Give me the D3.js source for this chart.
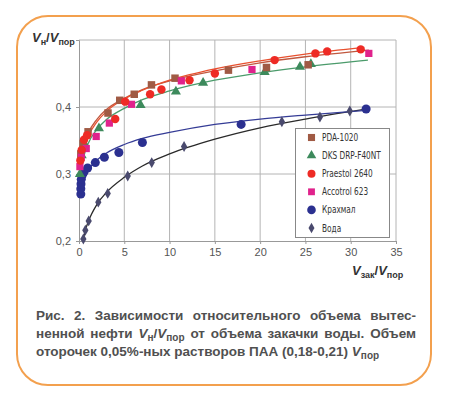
<!DOCTYPE html>
<html>
<head>
<meta charset="utf-8">
<script src="https://cdn.jsdelivr.net/npm/d3@7"></script>
<style>
  body { margin: 0; background: #fff; }
  #wrap { position: relative; width: 468px; height: 398px; }
  svg { position: absolute; left: 0; top: 0; }
  .caption { position: absolute; left: 36px; top: 307px; width: 380px;
    font-family: "Liberation Sans", Arial, sans-serif; font-weight: bold;
    font-size: 13.5px; line-height: 18px; color: #505050; }
  .caption div { text-align: justify; }
  .caption div.j { text-align-last: justify; }
  .caption sub { font-size: 10px; line-height: 0; vertical-align: -3px; }
</style>
</head>
<body>
<div id="wrap"></div>
<script>
// Axis ticks
var xTicks = [0, 5, 10, 15, 20, 25, 30, 35];
var yTicks = [0.2, 0.3, 0.4, 0.5];
var yTickLabels = ['0,2', '0,3', '0,4', ''];

// Legend names
var seriesNames = ['PDA-1020', 'DKS DRP-F40NT', 'Praestol 2640', 'Accotrol 623', 'Крахмал', 'Вода'];

// Measured points [Vзак/Vпор, Vн/Vпор]
var pdaPoints = [[0.2, 0.33], [0.45, 0.345], [1.0, 0.363], [3.2, 0.391], [4.5, 0.41], [6.1, 0.419],
  [8.0, 0.433], [10.6, 0.443], [16.5, 0.455], [20.7, 0.459], [25.3, 0.463]];
var dksPoints = [[0.1, 0.30], [0.3, 0.328], [0.6, 0.345], [2.2, 0.368], [6.8, 0.403], [10.7, 0.423],
  [13.7, 0.436], [20.5, 0.452], [24.4, 0.46], [25.6, 0.464]];
var praestolPoints = [[0.15, 0.32], [0.3, 0.336], [0.55, 0.351], [0.9, 0.358], [4.0, 0.382], [5.1, 0.408],
  [7.85, 0.419], [9.1, 0.426], [12.2, 0.44], [15.0, 0.45], [21.6, 0.47], [26.1, 0.48], [27.4, 0.483], [31.1, 0.486]];
var accotrolPoints = [[0.1, 0.311], [0.25, 0.325], [0.8, 0.338], [1.9, 0.356], [3.35, 0.376], [5.8, 0.404],
  [11.3, 0.439], [19.1, 0.456], [32.0, 0.48]];
var krahmalPoints = [[0.2, 0.27], [0.2, 0.278], [0.22, 0.285], [0.25, 0.292], [0.35, 0.298], [0.55, 0.303],
  [0.95, 0.309], [1.8, 0.317], [2.8, 0.325], [4.4, 0.332], [7.0, 0.347], [17.9, 0.374], [31.7, 0.397]];
var vodaPoints = [[0.48, 0.203], [0.7, 0.216], [1.07, 0.23], [2.13, 0.258], [3.17, 0.271], [5.38, 0.297],
  [8.03, 0.317], [11.6, 0.341], [22.4, 0.378], [26.6, 0.385], [29.9, 0.394]];

// Trend lines
var pdaTrend = [[0.2, 0.313], [0.5, 0.339], [1, 0.36], [2, 0.382], [3, 0.396], [5, 0.413], [7, 0.426],
  [10, 0.439], [15, 0.454], [20, 0.466], [25, 0.475], [32, 0.485]];
var praestolTrend = [[0.2, 0.306], [0.5, 0.333], [1, 0.355], [2, 0.378], [3, 0.393], [5, 0.412], [7, 0.425],
  [10, 0.44], [15, 0.457], [20, 0.469], [25, 0.479], [31.5, 0.489]];
var dksTrend = [[0.2, 0.299], [0.5, 0.324], [1, 0.345], [2, 0.367], [3, 0.381], [5, 0.398], [7, 0.411],
  [10, 0.424], [15, 0.44], [20, 0.451], [25, 0.46], [31.9, 0.47]];
var krahmalTrend = [[0.5, 0.29], [1, 0.305], [2, 0.321], [3, 0.331], [5, 0.344], [7, 0.353], [10, 0.362],
  [15, 0.374], [20, 0.382], [25, 0.388], [31.7, 0.395]];
var vodaTrend = [[0.45, 0.201], [0.7, 0.216], [1, 0.228], [2, 0.255], [3, 0.272], [5, 0.295], [7, 0.312],
  [10, 0.33], [15, 0.352], [20, 0.369], [25, 0.382], [31.3, 0.396]];

var wrap = d3.select('#wrap');
var svg = wrap.append('svg').attr('width', 468).attr('height', 398);

// Orange frame
svg.append('rect')
  .attr('x', 17).attr('y', 16).attr('width', 414).attr('height', 369)
  .attr('rx', 31).attr('ry', 31)
  .attr('fill', '#fff').attr('stroke', '#f3a04e').attr('stroke-width', 2);

var margin = {top: 40, left: 79, right: 396, bottom: 241};
var x = d3.scaleLinear().domain([0, 35]).range([margin.left, margin.right]);
var y = d3.scaleLinear().domain([0.2, 0.5]).range([margin.bottom, margin.top]);

// Grid
svg.append('g').selectAll('line').data(xTicks.slice(1)).enter().append('line')
  .attr('x1', function (d) { return x(d); }).attr('x2', function (d) { return x(d); })
  .attr('y1', y(0.2)).attr('y2', y(0.5))
  .attr('stroke', '#b4b4b4').attr('stroke-width', 1);
svg.append('g').selectAll('line').data(yTicks.slice(1)).enter().append('line')
  .attr('x1', x(0)).attr('x2', x(35))
  .attr('y1', function (d) { return y(d); }).attr('y2', function (d) { return y(d); })
  .attr('stroke', '#b4b4b4').attr('stroke-width', 1);

// Axes
var xAxis = d3.axisBottom(x).tickValues(xTicks).tickSize(3).tickPadding(4);
var yAxis = d3.axisLeft(y).tickValues(yTicks).tickSize(3).tickPadding(5)
  .tickFormat(function (d, i) { return yTickLabels[i]; });
[svg.append('g').attr('transform', 'translate(0,' + y(0.2) + ')').call(xAxis),
 svg.append('g').attr('transform', 'translate(' + x(0) + ',0)').call(yAxis)].forEach(function (g) {
  g.select('.domain').attr('stroke', '#999');
  g.selectAll('.tick line').attr('stroke', '#999');
  g.selectAll('.tick text').attr('fill', '#555')
    .style('font-family', '"Liberation Sans", Arial, sans-serif').style('font-size', '11px');
});

// Trend lines
var line = d3.line()
  .x(function (d) { return x(d[0]); })
  .y(function (d) { return y(d[1]); })
  .curve(d3.curveMonotoneX);
var trends = [
  {data: vodaTrend, color: '#2a2a2a'},
  {data: krahmalTrend, color: '#353c96'},
  {data: dksTrend, color: '#4b9b6b'},
  {data: pdaTrend, color: '#c0583f'},
  {data: praestolTrend, color: '#e8502e'}
];
trends.forEach(function (t) {
  svg.append('path').datum(t.data).attr('d', line)
    .attr('fill', 'none').attr('stroke', t.color).attr('stroke-width', 1.3);
});

// Marker shapes
var styles = [
  {type: d3.symbolSquare, size: 56, color: '#a05a44'},
  {type: d3.symbolTriangle, size: 44, color: '#3d8a5c'},
  {type: d3.symbolCircle, size: 56, color: '#ee2b25'},
  {type: d3.symbolSquare, size: 52, color: '#e0228c'},
  {type: d3.symbolCircle, size: 64, color: '#2b3090'},
  {type: d3.symbolDiamond, size: 34, color: '#4a4a6e'}
];
var allPoints = [pdaPoints, dksPoints, praestolPoints, accotrolPoints, krahmalPoints, vodaPoints];
var drawOrder = [5, 4, 1, 0, 3, 2];
drawOrder.forEach(function (i) {
  var s = styles[i];
  svg.append('g').selectAll('path').data(allPoints[i]).enter().append('path')
    .attr('transform', function (d) { return 'translate(' + x(d[0]) + ',' + y(d[1]) + ')'; })
    .attr('d', d3.symbol().type(s.type).size(s.size))
    .attr('fill', s.color);
});

// Legend
var legend = svg.append('g');
legend.append('rect').attr('x', 295.5).attr('y', 128.5).attr('width', 94).attr('height', 109)
  .attr('fill', '#fff').attr('stroke', '#888').attr('stroke-width', 1);
seriesNames.forEach(function (name, i) {
  var ly = 137.5 + i * 18.1;
  legend.append('path')
    .attr('transform', 'translate(311.5,' + ly + ')')
    .attr('d', d3.symbol().type(styles[i].type).size(styles[i].size * 0.9))
    .attr('fill', styles[i].color);
  legend.append('text')
    .attr('x', 322).attr('y', ly + 3.6)
    .attr('fill', '#333')
    .style('font-family', '"Liberation Sans Narrow", "DejaVu Sans Condensed", Arial, sans-serif')
    .style('font-size', '10px')
    .attr('transform', 'translate(322,0) scale(0.82,1) translate(-322,0)')
    .text(name);
});

// Axis titles
function axisTitle(xp, yp, sub1, sub2) {
  var t = svg.append('text').attr('x', xp).attr('y', yp)
    .attr('fill', '#333')
    .style('font-family', '"Liberation Sans", Arial, sans-serif')
    .style('font-weight', 'bold').style('font-size', '13px');
  t.append('tspan').style('font-style', 'italic').text('V');
  t.append('tspan').attr('dy', 3).style('font-size', '9px').text(sub1);
  t.append('tspan').attr('dy', -3).text('/');
  t.append('tspan').style('font-style', 'italic').text('V');
  t.append('tspan').attr('dy', 3).style('font-size', '9px').text(sub2);
}
axisTitle(32, 42, 'н', 'пор');
axisTitle(352, 275, 'зак', 'пор');

// Caption
var cap = wrap.append('div').attr('class', 'caption');
cap.append('div').attr('class', 'j').text('Рис. 2. Зависимости относительного объема вытес-');
cap.append('div').attr('class', 'j').html('ненной нефти <i>V</i><sub>н</sub>/<i>V</i><sub>пор</sub> от объема закачки воды. Объем');
cap.append('div').html('оторочек 0,05%-ных растворов ПАА (0,18-0,21) <i>V</i><sub>пор</sub>');
</script>
</body>
</html>
